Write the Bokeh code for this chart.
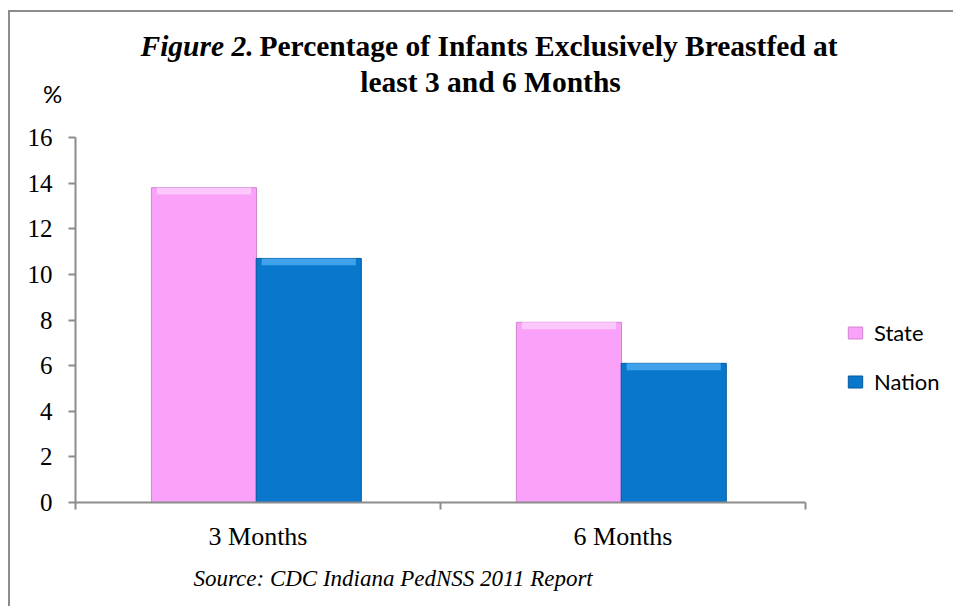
from bokeh.plotting import figure
from bokeh.models import (Range1d, FixedTicker, Label, Legend, LegendItem,
                          ColumnDataSource)
from bokeh.transform import dodge
from bokeh.embed import file_html
from bokeh.resources import INLINE

# ---- data ----
categories = ["3 Months", "6 Months"]
series_names = ["State", "Nation"]
state = [13.8, 7.9]
nation = [10.7, 6.1]
y_ticks = [0, 2, 4, 6, 8, 10, 12, 14, 16]
title_italic = "Figure 2."
title_line1 = "Percentage of Infants Exclusively Breastfed at"
title_line2 = "least 3 and 6 Months"
y_title = "%"
source_note = "Source: CDC Indiana PedNSS 2011 Report"

# ---- layout (page pixel targets) ----
W, H = 953, 606
SX0, SX1, SY0, SY1 = 75, 805, 137, 502   # plot area of the categories / 0..16
YMAX = 16
NCAT = len(categories)
PX_X = (SX1 - SX0) / NCAT      # px per category
PX_Y = (SY1 - SY0) / YMAX      # px per unit

def xd(px):   # page x -> data x
    return (px - SX0) / PX_X

def yd(py):   # page y -> data y
    return (SY1 - py) / PX_Y

xs = [i + 0.5 for i in range(NCAT)]
src = ColumnDataSource(dict(x=xs, cat=categories, state=state, nation=nation))

# frame reaches the top and right edges so that the title and legend are not clipped
p = figure(width=W, height=H, output_backend="svg", toolbar_location=None,
           x_range=Range1d(0, xd(W)), y_range=Range1d(0, yd(0)),
           min_border_left=SX0, min_border_right=0,
           min_border_top=0, min_border_bottom=H - SY1)
p.styles = {
    "background-image": "linear-gradient(#8C8C8C,#8C8C8C), linear-gradient(#8C8C8C,#8C8C8C)",
    "background-size": "2px 100%, 100% 2px",
    "background-position": "8px 10px, 8px 10px",
    "background-repeat": "no-repeat",
}
p.outline_line_color = None
p.grid.visible = False
p.background_fill_alpha = 0
p.border_fill_alpha = 0

PINK, PINK_EDGE, PINK_HI = "#FAA2FA", "#CF86CF", "#FCC8FC"
BLUE, BLUE_EDGE, BLUE_HI = "#0877CC", "#05599C", "#3FA2EA"
BW = 0.288
HI = 0.3   # height of the bevel highlight band (data units)

r_state = p.vbar(x=dodge("x", -0.148), top="state", width=BW, bottom=0, source=src,
                 fill_color=PINK, line_color=PINK_EDGE, line_width=1)
r_nation = p.vbar(x=dodge("x", 0.139), top="nation", width=BW, bottom=0, source=src,
                  fill_color=BLUE, line_color=BLUE_EDGE, line_width=1)
src.data["state_hi"] = [v - HI for v in state]
src.data["nation_hi"] = [v - HI for v in nation]
p.vbar(x=dodge("x", -0.148), top="state", bottom="state_hi", width=BW - 0.03, source=src,
       fill_color=PINK_HI, line_color=None)
p.vbar(x=dodge("x", 0.139), top="nation", bottom="nation_hi", width=BW - 0.03, source=src,
       fill_color=BLUE_HI, line_color=None)

AX = "#8C8C8C"
# x axis
xa = p.xaxis[0]
xa.bounds = (0, NCAT)
xa.ticker = FixedTicker(ticks=xs, minor_ticks=list(range(NCAT + 1)))
xa.major_label_overrides = {x: c for x, c in zip(xs, categories)}
xa.major_tick_line_color = None
xa.minor_tick_line_color = AX
xa.minor_tick_line_width = 2
xa.minor_tick_in = 0
xa.minor_tick_out = 7
xa.axis_line_color = AX
xa.axis_line_width = 2
xa.major_label_text_font = "Liberation Serif"
xa.major_label_text_font_size = "26px"
xa.major_label_text_color = "black"
xa.major_label_standoff = 12

# y axis
ya = p.yaxis[0]
ya.bounds = (0, YMAX)
ya.ticker = FixedTicker(ticks=y_ticks, minor_ticks=[])
ya.major_tick_line_color = AX
ya.major_tick_line_width = 2
ya.major_tick_in = 0
ya.major_tick_out = 7
ya.minor_tick_line_color = None
ya.axis_line_color = AX
ya.axis_line_width = 2
ya.major_label_text_font = "Liberation Serif"
ya.major_label_text_font_size = "25px"
ya.major_label_text_color = "black"
ya.major_label_standoff = 16

# legend; tuple location = bottom-left corner relative to the frame's bottom-left
legend = Legend(items=[LegendItem(label=series_names[0], renderers=[r_state]),
                       LegendItem(label=series_names[1], renderers=[r_nation])],
                location=(846 - SX0, SY1 - 394.5),
                glyph_width=18, glyph_height=15, label_height=26, spacing=22,
                label_standoff=10, padding=0, margin=0,
                border_line_color=None, background_fill_alpha=0,
                label_text_font="Lato", label_text_font_size="22px",
                label_text_color="black")
p.add_layout(legend, "center")

BASE_FIX = 0.38   # empirical shift of Label's alphabetic baseline (in em)

def lab(px, py, text, panel, size, **kw):
    p.add_layout(Label(x=xd(px), y=yd(py - BASE_FIX * size), text=text,
                       text_color="black", text_font_size=f"{size}px",
                       text_baseline="alphabetic", **kw), panel)

TS = 29.5
lab(140, 57, title_italic, "center", TS, text_font="Liberation Serif",
    text_font_style="bold italic", text_align="left")
lab(259, 57, title_line1, "center", TS, text_font="Liberation Serif",
    text_font_style="bold", text_align="left")
lab(490, 93, title_line2, "center", TS, text_font="Liberation Serif",
    text_font_style="bold", text_align="center")
lab(52, 102, y_title, "left", 24, text_font="Lato", text_align="center")
lab(193, 587, source_note, "below", 23, text_font="Liberation Serif",
    text_font_style="italic", text_align="left")

open("out.html", "w").write(file_html(p, INLINE))
